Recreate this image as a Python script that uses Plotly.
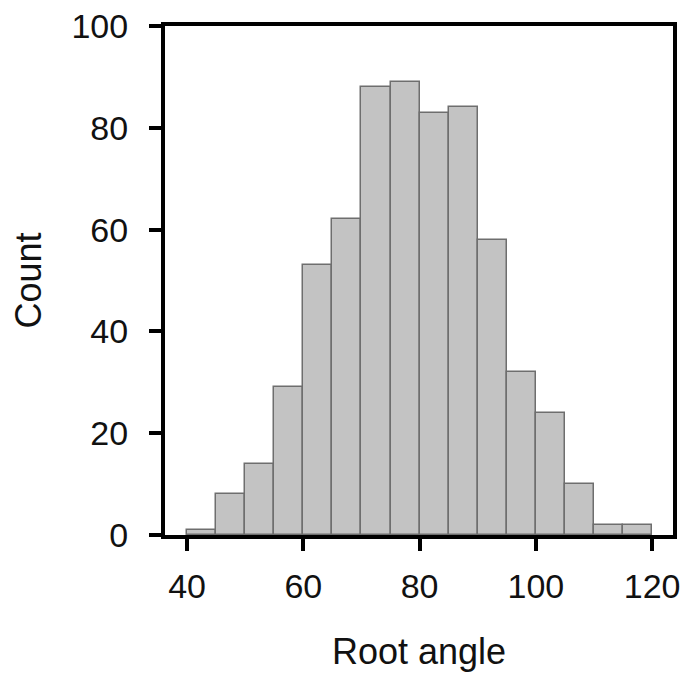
import plotly.graph_objects as go

# Histogram of root angles: bin left edges (width 5) and counts
bin_left = [40, 45, 50, 55, 60, 65, 70, 75, 80, 85, 90, 95, 100, 105, 110, 115]
counts = [1, 8, 14, 29, 53, 62, 88, 89, 83, 84, 58, 32, 24, 10, 2, 2]
bin_width = 5

x_ticks = [40, 60, 80, 100, 120]
y_ticks = [0, 20, 40, 60, 80, 100]

centers = [b + bin_width / 2 for b in bin_left]

fig = go.Figure(
    go.Bar(
        x=centers,
        y=counts,
        width=[bin_width] * len(counts),
        marker=dict(color="#c3c3c3", line=dict(color="#6e6e6e", width=1.5)),
    )
)

font_family = "Arial, Liberation Sans, Helvetica, sans-serif"

fig.update_layout(
    width=688,
    height=674,
    margin=dict(l=165, r=15, t=26, b=139),
    paper_bgcolor="white",
    plot_bgcolor="white",
    showlegend=False,
    bargap=0,
    font=dict(family=font_family, size=34, color="#111"),
)

axis_common = dict(
    showline=True,
    linewidth=4,
    linecolor="black",
    mirror=True,
    ticks="outside",
    ticklen=12,
    tickwidth=4,
    tickcolor="black",
    showgrid=False,
    zeroline=False,
    automargin=False,
    tickfont=dict(family=font_family, size=34, color="#111"),
)

fig.update_xaxes(
    range=[36.2, 123.6],
    tickvals=x_ticks,
    ticktext=[str(v) for v in x_ticks],
    ticklabelstandoff=6,
    title=dict(text="Root angle", font=dict(family=font_family, size=36, color="#111"), standoff=36),
    **axis_common,
)
fig.update_yaxes(
    range=[0, 100],
    tickvals=y_ticks,
    ticktext=[str(v) for v in y_ticks],
    ticklabelstandoff=14,
    title=dict(text="Count", font=dict(family=font_family, size=36, color="#111"), standoff=20),
    **axis_common,
)

fig.write_html("out.html")
